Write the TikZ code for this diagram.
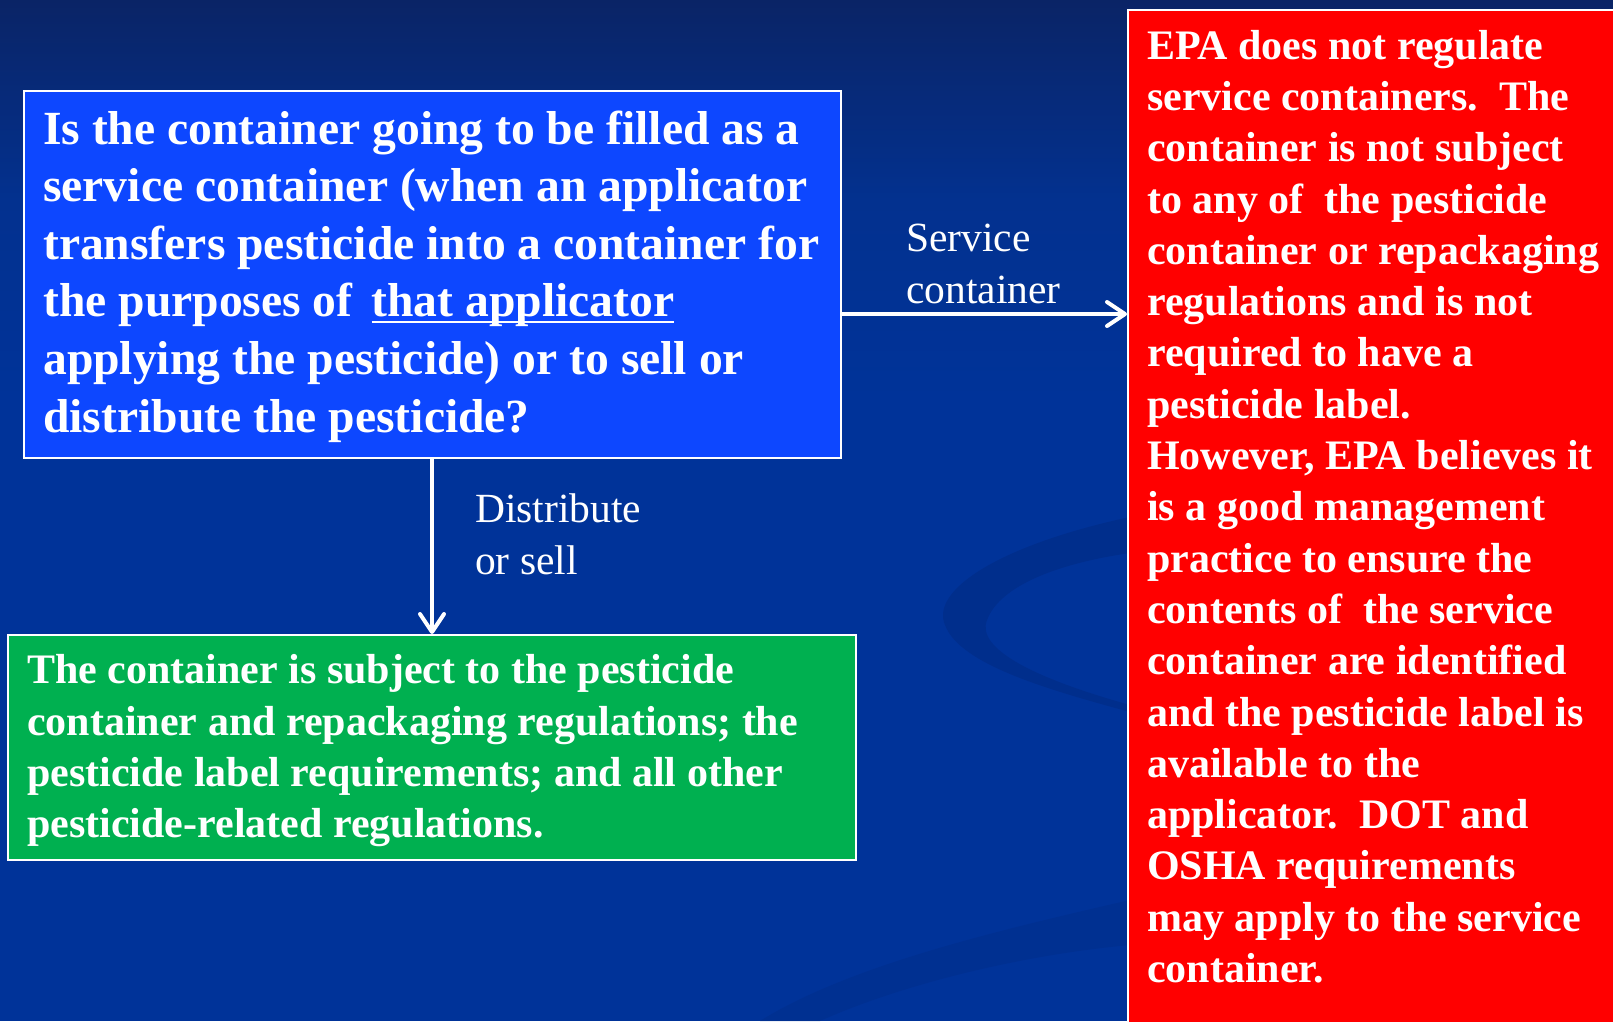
\documentclass[tikz,border=0pt]{standalone}
\usepackage{fontspec}
\setmainfont{Liberation Serif}
\usetikzlibrary{arrows.meta}
\definecolor{bgtop}{HTML}{0A2466}
\definecolor{bgmid}{HTML}{03318F}
\definecolor{bgbot}{HTML}{003399}
\definecolor{swirl}{HTML}{002E8C}
\definecolor{qblue}{HTML}{0D47FF}
\definecolor{okgreen}{HTML}{00B050}
\definecolor{nored}{HTML}{FF0000}
\newcommand\ulin[1]{\setbox0\hbox{#1}\rlap{\rule[-6pt]{\wd0}{2.2pt}}\box0}
\tikzset{
  box/.style={draw=white, line width=2pt, inner sep=0pt, anchor=north west},
  boxtext/.style={text=white, align=left, inner sep=0pt, anchor=north west},
  bigbold/.style={font=\fontsize{47.6}{57.6}\selectfont\bfseries},
  midbold/.style={font=\fontsize{42}{51.3}\selectfont\bfseries},
  lbl/.style={text=white, align=left, inner sep=0pt, anchor=north west, font=\fontsize{41.5}{51.4}\selectfont},
  conn/.style={draw=white, line width=4pt, -{Straight Barb[length=18pt,width=24pt,line cap=round,line join=round]}}
}
\begin{document}
\begin{tikzpicture}[x=1pt,y=-1pt]
\useasboundingbox (0,0) rectangle (1613,1021);
\fill[bgbot] (0,0) rectangle (1613,1021);
\shade[top color=bgtop, bottom color=bgbot, middle color=bgmid] (0,0) rectangle (1613,400);
% background swirl
\fill[swirl] (1130,517) .. controls (1000,545) and (930,590) .. (945,625)
  .. controls (960,665) and (1050,690) .. (1130,712)
  -- (1130,705) .. controls (1040,680) and (975,650) .. (987,620)
  .. controls (1000,585) and (1060,563) .. (1130,553) -- cycle;
\fill[swirl, opacity=0.6] (1130,900) .. controls (1000,930) and (850,965) .. (760,1021)
  -- (820,1021) .. controls (900,985) and (1020,955) .. (1130,945) -- cycle;
% boxes
\node[box, fill=qblue, minimum width=817pt, minimum height=367pt] (q) at (22.5,89.5) {};
\node[box, fill=okgreen, minimum width=848pt, minimum height=225pt] (g) at (7,634) {};
\node[box, fill=nored, minimum width=520pt, minimum height=1100pt] (r) at (1127,9) {};
% texts
\node[boxtext, bigbold] (qt) at (43,103.5) {\strut Is the container going to be filled as a\\
service container (when an applicator\\
transfers pesticide into a container for\\
the purposes of \hspace{7pt}\ulin{that applicator}\\
applying the pesticide) or to sell or\\
distribute the pesticide?};
\node[boxtext, midbold] (gt) at (27,647.6) {\strut The container is subject to the pesticide\\
container and repackaging regulations; the\\
pesticide label requirements; and all other\\
pesticide-related regulations.};
\node[boxtext, midbold] (rt) at (1147,23) {\strut EPA does not regulate\\
service containers.\ \ The\\
container is not subject\\
to any of\ \ the pesticide\\
container or repackaging\\
regulations and is not\\
required to have a\\
pesticide label.\\
However, EPA believes it\\
is a good management\\
practice to ensure the\\
contents of\ \ the service\\
container are identified\\
and the pesticide label is\\
available to the\\
applicator.\ \ DOT and\\
OSHA requirements\\
may apply to the service\\
container.};
% connectors
\draw[conn] ([yshift=-40pt]q.east) -- ([yshift=-40pt]q.east -| r.west);
\draw[conn] (q.south) -- (q.south |- g.north);
% labels
\node[lbl] (ls) at (906,215.5) {\strut Service\\container};
\node[lbl] (ld) at (475,486.5) {\strut Distribute\\or sell};
\end{tikzpicture}
\end{document}
